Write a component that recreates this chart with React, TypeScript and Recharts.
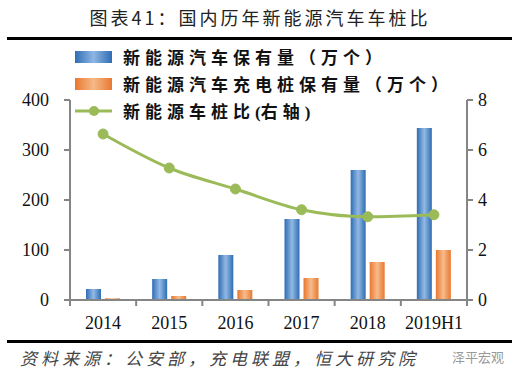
import { Bar, ComposedChart, Line, XAxis, YAxis } from "recharts";

const years = ["2014", "2015", "2016", "2017", "2018", "2019H1"];
const evStock = [22, 42, 90, 162, 260, 344];
const pileStock = [3.4, 8, 20, 44, 76, 100];
const ratio = [6.64, 5.28, 4.44, 3.61, 3.33, 3.41];
const leftTicks = [0, 100, 200, 300, 400];
const rightTicks = [0, 2, 4, 6, 8];

const data = years.map((y, i) => ({ year: y, ev: evStock[i], pile: pileStock[i], ratio: ratio[i] }));

const BLUE = "#2E6DB4";
const ORANGE = "#E8782F";
const GREEN = "#9BBB59";
const AXIS = "#858585";
const serif = "'Liberation Serif', 'Times New Roman', serif";
const cjk = "'Noto Sans CJK SC', sans-serif";

const M = { top: 100, right: 8, left: 20, bottom: 47 };
const BAND = (520 - 70 - 53) / years.length;

function XTick(props: any) {
  const { x, y, payload, index } = props;
  return (
    <g>
      <line x1={x - BAND / 2} x2={x - BAND / 2} y1={y - 8} y2={y - 2} stroke={AXIS} strokeWidth={2} />
      {index === years.length - 1 && (
        <line x1={x + BAND / 2} x2={x + BAND / 2} y1={y - 8} y2={y - 2} stroke={AXIS} strokeWidth={2} />
      )}
      <text x={x} y={y + 21} textAnchor="middle" fontFamily={serif} fontSize={18} fill="#111">
        {payload.value}
      </text>
    </g>
  );
}

function LegendBox() {
  const row = { display: "flex", alignItems: "center", height: 27 } as const;
  const txt = { fontFamily: cjk, fontWeight: 700, fontSize: 17, letterSpacing: 5, color: "#111", marginLeft: 11, whiteSpace: "nowrap" } as const;
  return (
    <div style={{ position: "absolute", left: 75, top: 43 }}>
      <div style={row}>
        <div style={{ width: 37, height: 12, background: `linear-gradient(90deg, ${BLUE}, #8FB6E3 50%, ${BLUE})` }} />
        <span style={txt}>新能源汽车保有量（万个）</span>
      </div>
      <div style={row}>
        <div style={{ width: 37, height: 12, background: `linear-gradient(90deg, ${ORANGE}, #F6B988 50%, ${ORANGE})` }} />
        <span style={txt}>新能源汽车充电桩保有量（万个）</span>
      </div>
      <div style={row}>
        <svg width={37} height={12}>
          <line x1={0} x2={37} y1={6} y2={6} stroke={GREEN} strokeWidth={3} />
          <circle cx={19} cy={6} r={5} fill={GREEN} />
        </svg>
        <span style={txt}>
          新能源车桩比<span style={{ fontFamily: serif, letterSpacing: 0 }}>(</span>右轴<span style={{ fontFamily: serif, letterSpacing: 0 }}>)</span>
        </span>
      </div>
    </div>
  );
}

export default function App() {
  return (
    <div style={{ position: "absolute", left: 0, top: 0, width: 520, height: 377, background: "#fff" }}>
      <div
        style={{
          position: "absolute",
          top: 4,
          left: 0,
          width: 520,
          textAlign: "center",
          fontFamily: cjk,
          fontSize: 18,
          letterSpacing: 3,
          color: "#222",
        }}
      >
        图表41：国内历年新能源汽车车桩比
      </div>
      <div style={{ position: "absolute", top: 37, left: 7, width: 505, height: 3, background: "#000" }} />
      <ComposedChart width={520} height={377} data={data} margin={M} barSize={15} barGap={4}>
        <defs>
          <linearGradient id="blueG" x1="0" x2="1" y1="0" y2="0">
            <stop offset="0%" stopColor={BLUE} />
            <stop offset="50%" stopColor="#93B9E4" />
            <stop offset="100%" stopColor={BLUE} />
          </linearGradient>
          <linearGradient id="orangeG" x1="0" x2="1" y1="0" y2="0">
            <stop offset="0%" stopColor={ORANGE} />
            <stop offset="50%" stopColor="#F7BC8C" />
            <stop offset="100%" stopColor={ORANGE} />
          </linearGradient>
        </defs>
        <XAxis
          dataKey="year"
          height={30}
          stroke={AXIS}
          strokeWidth={2}
          tickLine={false}
          tick={<XTick />}
          interval={0}
        />
        <YAxis
          yAxisId="l"
          width={50}
          domain={[0, 400]}
          ticks={leftTicks}
          stroke={AXIS}
          strokeWidth={2}
          tickSize={6}
          tickMargin={15}
          tick={{ fill: "#111", fontSize: 18, fontFamily: serif }}
        />
        <YAxis
          yAxisId="r"
          orientation="right"
          width={45}
          domain={[0, 8]}
          ticks={rightTicks}
          stroke={AXIS}
          strokeWidth={2}
          tickSize={6}
          tickMargin={5}
          tick={{ fill: "#111", fontSize: 18, fontFamily: serif }}
        />
        <Bar yAxisId="l" dataKey="ev" fill="url(#blueG)" isAnimationActive={false} />
        <Bar yAxisId="l" dataKey="pile" fill="url(#orangeG)" isAnimationActive={false} />
        <Line
          yAxisId="r"
          type="monotone"
          dataKey="ratio"
          stroke={GREEN}
          strokeWidth={3}
          dot={{ r: 5, fill: GREEN, stroke: GREEN, strokeWidth: 1 }}
          isAnimationActive={false}
        />
      </ComposedChart>
      <LegendBox />
      <div style={{ position: "absolute", top: 340, left: 7, width: 505, height: 3, background: "#000" }} />
      <div
        style={{
          position: "absolute",
          top: 345,
          left: 20,
          fontFamily: cjk,
          fontStyle: "italic",
          fontSize: 17,
          letterSpacing: 4,
          color: "#444",
        }}
      >
        资料来源：公安部，充电联盟，恒大研究院
      </div>
      <div
        style={{
          position: "absolute",
          top: 347,
          left: 452,
          fontFamily: cjk,
          fontSize: 13,
          color: "#999",
        }}
      >
        泽平宏观
      </div>
    </div>
  );
}
